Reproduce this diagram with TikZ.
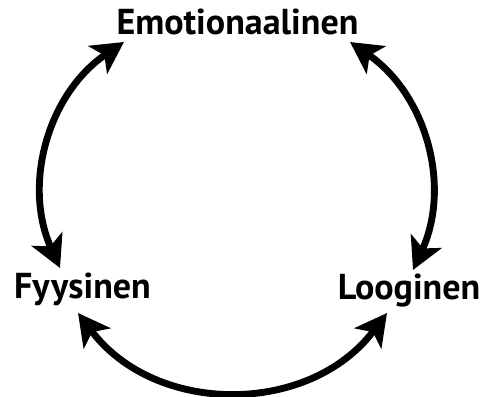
\documentclass[tikz,border=0pt]{standalone}
\usepackage{fontspec}
\setmainfont{PT Sans}
\usetikzlibrary{arrows.meta}
\tikzstyle{term} = [font=\fontsize{20.5}{22}\selectfont\bfseries, inner sep=0pt, anchor=base]
\tikzstyle{arrow} = [line width=3.9pt, {Stealth[length=18pt,width=19pt,inset=4.5pt]}-{Stealth[length=18pt,width=19pt,inset=4.5pt]}]

\begin{document}
\begin{tikzpicture}[x=0.02cm, y=0.02cm]
			\useasboundingbox (0,0) rectangle (493,396);
			\node (E) [term] at (237.5,361) {Emotionaalinen};
			\node (F) [term] at (82.5,98) {Fyysinen};
			\node (L) [term] at (409,97) {Looginen};
			\draw [arrow] ([shift={(-113.5,-7)}]E.base) to[bend right=40] ([shift={(-22.5,30)}]F.base);
			\draw [arrow] ([shift={(-4.5,-15)}]F.base) to[bend right=53, looseness=1.07] ([shift={(-22,-14)}]L.base);
			\draw [arrow] ([shift={(4,29)}]L.base) to[bend right=40] ([shift={(112.5,-7)}]E.base);
		\end{tikzpicture}
\end{document}
